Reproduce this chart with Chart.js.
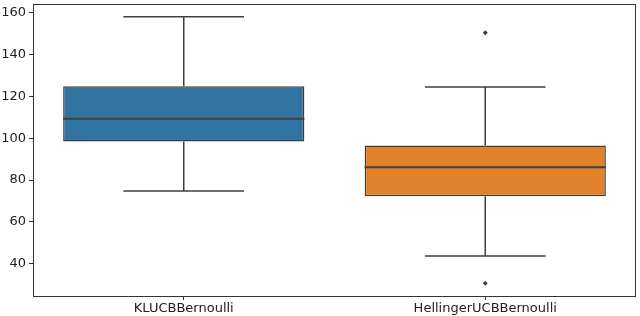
<!DOCTYPE html>
<html>
<head>
<meta charset="utf-8">
<script src="https://cdn.jsdelivr.net/npm/chart.js@4/dist/chart.umd.min.js"></script>
<style>
  html, body { margin: 0; padding: 0; background: #fff; }
  #wrap { width: 640px; height: 316px; }
</style>
</head>
<body>
<div id="wrap"><canvas id="boxChart"></canvas></div>
<script>
// box plot values
const categories = ["KLUCBBernoulli", "HellingerUCBBernoulli"];
const q1 = [98.4, 72.2];
const median = [109.4, 86.1];
const q3 = [124.9, 96.6];
const whiskerLow = [74.7, 43.6];
const whiskerHigh = [158.2, 124.5];
const outliers = [
  { x: "HellingerUCBBernoulli", y: 150.5 },
  { x: "HellingerUCBBernoulli", y: 30.6 }
];
const yTicks = [40, 60, 80, 100, 120, 140, 160];
const boxColors = ["#3274a1", "#e1812c"];
const lineColor = "#3f3f3f";

// median line + whiskers + caps, drawn through the chart scales
const whiskerPlugin = {
  id: "whiskers",
  afterDatasetsDraw(chart) {
    const ctx = chart.ctx;
    const xs = chart.scales.x;
    const ys = chart.scales.y;
    const bars = chart.getDatasetMeta(0).data;
    ctx.save();
    ctx.strokeStyle = lineColor;
    categories.forEach((c, i) => {
      const x = xs.getPixelForValue(i);
      const half = bars[i].width / 2;
      const cap = half / 2;
      const line = (x1, y1, x2, y2) => {
        ctx.beginPath();
        ctx.moveTo(x1, y1);
        ctx.lineTo(x2, y2);
        ctx.stroke();
      };
      const yMed = ys.getPixelForValue(median[i]);
      ctx.lineWidth = 2;
      line(x - half, yMed, x + half, yMed);
      ctx.lineWidth = 1.5;
      line(x, ys.getPixelForValue(q3[i]), x, ys.getPixelForValue(whiskerHigh[i]));
      line(x, ys.getPixelForValue(q1[i]), x, ys.getPixelForValue(whiskerLow[i]));
      const yHi = ys.getPixelForValue(whiskerHigh[i]);
      const yLo = ys.getPixelForValue(whiskerLow[i]);
      line(x - cap, yHi, x + cap, yHi);
      line(x - cap, yLo, x + cap, yLo);
    });
    ctx.restore();
  },
  afterDraw(chart) {
    // frame around the plot area (matplotlib spines)
    const a = chart.chartArea;
    const ctx = chart.ctx;
    ctx.save();
    ctx.strokeStyle = "#333";
    ctx.lineWidth = 1;
    ctx.strokeRect(a.left + 0.5, a.top + 0.5, a.right - a.left - 1, a.bottom - a.top - 1);
    ctx.restore();
  }
};

const ctx = document.getElementById("boxChart").getContext("2d");
new Chart(ctx, {
  type: "bar",
  data: {
    labels: categories,
    datasets: [
      {
        type: "bar",
        data: categories.map((c, i) => [q1[i], q3[i]]),
        backgroundColor: boxColors,
        borderColor: lineColor,
        borderWidth: 1.5,
        borderSkipped: false,
        barPercentage: 0.8,
        categoryPercentage: 1.0
      },
      {
        type: "scatter",
        data: outliers,
        pointStyle: "rectRot",
        pointRadius: 2.5,
        backgroundColor: lineColor,
        borderColor: lineColor,
        borderWidth: 0
      }
    ]
  },
  options: {
    responsive: true,
    maintainAspectRatio: false,
    animation: false,
    layout: { padding: { top: 1, right: 2, left: 0, bottom: 0 } },
    plugins: {
      legend: { display: false },
      tooltip: { enabled: false }
    },
    scales: {
      x: {
        type: "category",
        offset: true,
        grid: { offset: false, drawOnChartArea: false, drawTicks: true, tickLength: 3, color: "#333" },
        border: { display: false },
        ticks: {
          color: "#222",
          font: { family: "DejaVu Sans", size: 13 },
          padding: 1,
          maxRotation: 0
        },
        afterFit(scale) {
          scale.height = 19;
          scale.paddingLeft = 0;
          scale.paddingRight = 0;
        }
      },
      y: {
        min: 24,
        max: 164.3,
        grid: { drawOnChartArea: false, drawTicks: true, tickLength: 4, color: "#333" },
        border: { display: false },
        ticks: {
          color: "#222",
          font: { family: "DejaVu Sans", size: 13 },
          padding: 3
        },
        afterBuildTicks(scale) {
          scale.ticks = yTicks.map(v => ({ value: v }));
        },
        afterFit(scale) {
          scale.width = 33;
          scale.paddingTop = 0;
          scale.paddingBottom = 0;
        }
      }
    }
  },
  plugins: [whiskerPlugin]
});
</script>
</body>
</html>
